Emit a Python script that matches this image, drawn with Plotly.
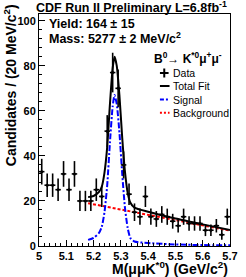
import plotly.graph_objects as go

# ---- data ----
mass_bins = [5.01, 5.03, 5.05, 5.07, 5.09, 5.11, 5.13, 5.15, 5.17, 5.19,
             5.21, 5.23, 5.25, 5.27, 5.29, 5.31, 5.33, 5.35, 5.37, 5.39,
             5.41, 5.43, 5.45, 5.47, 5.49, 5.51, 5.53, 5.55, 5.57, 5.59,
             5.61, 5.63, 5.65, 5.67, 5.69]
counts = [33, 27, 27, 25, 32, 25, 32, 20, 20, 20,
          25, 22, 51, 77, 70, 36, 23, 15, 13, 22,
          13, 12, 14, 13, 11, 9, 13, 10, 10, 10,
          7, 7, 9, 5, 13]
count_errs = [5.7, 5.2, 5.2, 5.0, 5.7, 5.0, 5.7, 4.5, 4.5, 4.5,
              5.0, 4.7, 7.1, 8.8, 8.4, 6.0, 4.8, 3.9, 3.6, 4.7,
              3.6, 3.5, 3.7, 3.6, 3.3, 3.0, 3.6, 3.2, 3.2, 3.2,
              2.6, 2.6, 3.0, 2.2, 3.6]
bin_half_width = 0.01

fit_mass = [5.18, 5.20, 5.22, 5.23, 5.24, 5.25, 5.26, 5.27, 5.277, 5.285,
            5.295, 5.305, 5.315, 5.325, 5.335, 5.35, 5.40, 5.50, 5.60, 5.70]
total_fit = [21.7, 22.2, 24.0, 26.3, 32.6, 44.0, 63.0, 79.0, 84.0, 80.0,
             66.5, 48.0, 33.0, 23.6, 19.2, 17.0, 15.2, 12.2, 9.6, 7.1]
signal_fit = [2.7, 3.6, 5.8, 8.5, 15.0, 27.0, 46.0, 62.0, 67.0, 63.0,
              50.0, 32.0, 17.0, 8.0, 3.5, 2.0, 1.3, 0.7, 0.4, 0.3]
bg_mass = [5.18, 5.30, 5.40, 5.50, 5.60, 5.70]
bg_fit = [19.0, 16.2, 13.9, 11.5, 9.2, 6.8]

x_range = [5.0, 5.7]
y_range = [0, 103]

FONT = "Liberation Sans, Arial, sans-serif"

fig = go.Figure()

fig.add_trace(go.Scatter(x=bg_mass, y=bg_fit, mode="lines",
                         line=dict(color="#ff0000", width=2, dash="3px,2px"),
                         showlegend=False, hoverinfo="skip"))
fig.add_trace(go.Scatter(x=fit_mass, y=signal_fit, mode="lines",
                         line=dict(color="#0000ff", width=2, dash="6px,2px,2px,2px",
                                   shape="spline", smoothing=0.6),
                         showlegend=False, hoverinfo="skip"))
fig.add_trace(go.Scatter(x=fit_mass, y=total_fit, mode="lines",
                         line=dict(color="black", width=2, shape="spline", smoothing=0.6),
                         showlegend=False, hoverinfo="skip"))
fig.add_trace(go.Scatter(x=mass_bins, y=counts, mode="markers",
                         marker=dict(color="black", size=3),
                         error_y=dict(type="data", array=count_errs, color="black",
                                      thickness=1.6, width=0),
                         error_x=dict(type="constant", value=bin_half_width, color="black",
                                      thickness=1.6, width=0),
                         showlegend=False))

axis_common = dict(showline=True, linecolor="black", linewidth=1, mirror=True,
                   showgrid=False, zeroline=False, ticks="inside", ticklen=6,
                   tickcolor="black", tickwidth=1,
                   tickfont=dict(family=FONT, size=11, color="black", weight="bold"))

fig.update_xaxes(range=x_range, dtick=0.1, tick0=5.0,
                 minor=dict(dtick=0.02, ticks="inside", ticklen=3, tickcolor="black"),
                 **axis_common)
fig.update_yaxes(range=y_range, dtick=20, tick0=0,
                 minor=dict(dtick=4, ticks="inside", ticklen=3, tickcolor="black"),
                 **axis_common)

def px_x(p):
    return (p - 39) / 199.0

def px_y(p):
    return (246 - p) / 232.0

ann = []
ann.append(dict(text="CDF Run II Preliminary L=6.8fb<sup>-1</sup>", x=px_x(135.5), y=px_y(7),
                xanchor="center", yanchor="middle",
                font=dict(family=FONT, size=12.5, color="black", weight="bold")))
ann.append(dict(text="Yield: 164 ± 15", x=px_x(47), y=px_y(24), xanchor="left", yanchor="middle",
                font=dict(family=FONT, size=12.5, color="black", weight="bold")))
ann.append(dict(text="Mass: 5277 ± 2 MeV/c<sup>2</sup>", x=px_x(47), y=px_y(37.5),
                xanchor="left", yanchor="middle",
                font=dict(family=FONT, size=12.5, color="black", weight="bold")))
ann.append(dict(text="B<sup>0</sup>→ K<sup>*0</sup>μ<sup>+</sup>μ<sup>-</sup>", x=px_x(157), y=px_y(58),
                xanchor="left", yanchor="middle",
                font=dict(family=FONT, size=12, color="black", weight="bold")))
leg_labels = ["Data", "Total Fit", "Signal", "Background"]
leg_y = [73, 86, 99.5, 112.7]
for lab, ly in zip(leg_labels, leg_y):
    ann.append(dict(text=lab, x=px_x(177), y=px_y(ly), xanchor="left", yanchor="middle",
                    font=dict(family=FONT, size=10.5, color="black")))
ann.append(dict(text="M(μμK<sup>*0</sup>) (GeV/c<sup>2</sup>)", x=px_x(238), y=px_y(268),
                xanchor="right", yanchor="middle",
                font=dict(family=FONT, size=14, color="black", weight="bold")))
ann.append(dict(text="Candidates / (20 MeV/c<sup>2</sup>)", x=px_x(9), y=px_y(2),
                xanchor="center", yanchor="top", textangle=-90,
                font=dict(family=FONT, size=14, color="black", weight="bold")))
for a in ann:
    a.update(xref="paper", yref="paper", showarrow=False)

shapes = [
    dict(type="line", x0=px_x(165), x1=px_x(174), y0=px_y(73), y1=px_y(73),
         line=dict(color="black", width=2)),
    dict(type="line", x0=px_x(169.5), x1=px_x(169.5), y0=px_y(68.5), y1=px_y(77.5),
         line=dict(color="black", width=2)),
    dict(type="line", x0=px_x(165), x1=px_x(175), y0=px_y(86), y1=px_y(86),
         line=dict(color="black", width=2)),
    dict(type="line", x0=px_x(165), x1=px_x(175), y0=px_y(99.5), y1=px_y(99.5),
         line=dict(color="#0000ff", width=2, dash="4px,2px,2px,2px")),
    dict(type="line", x0=px_x(165), x1=px_x(175), y0=px_y(112.7), y1=px_y(112.7),
         line=dict(color="#ff0000", width=2, dash="2px,2px")),
]
for s in shapes:
    s.update(xref="paper", yref="paper")

fig.update_layout(width=246, height=277, autosize=False,
                  margin=dict(l=39, r=8, t=14, b=31, pad=0),
                  paper_bgcolor="white", plot_bgcolor="white",
                  annotations=ann, shapes=shapes, showlegend=False)

fig.write_html("out.html",
               config={"displayModeBar": False},
               post_script="document.body.style.margin='0';document.body.style.padding='0';document.body.style.overflow='hidden';")
